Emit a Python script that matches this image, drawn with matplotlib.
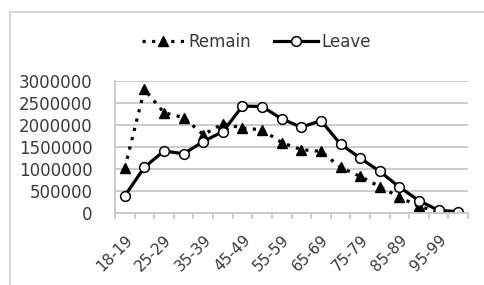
import numpy as np
import matplotlib.pyplot as plt
from matplotlib.patches import Rectangle

# age groups and votes
age_groups = ['18-19', '20-24', '25-29', '30-34', '35-39', '40-44', '45-49',
              '50-54', '55-59', '60-64', '65-69', '70-74', '75-79', '80-84',
              '85-89', '90-94', '95-99', '100+']
remain = [1020000, 2810000, 2280000, 2170000, 1780000, 2030000, 1930000,
          1890000, 1600000, 1440000, 1400000, 1040000, 830000, 600000,
          360000, 150000, 30000, 10000]
leave = [390000, 1040000, 1410000, 1345000, 1625000, 1850000, 2430000,
         2420000, 2140000, 1950000, 2100000, 1565000, 1250000, 945000,
         590000, 280000, 60000, 30000]
yticks = [0, 500000, 1000000, 1500000, 2000000, 2500000, 3000000]

txt = '#3a3a3a'
grid = '#c8c8c8'

fig = plt.figure(figsize=(4.84, 2.85), dpi=100)
fig.patches.append(Rectangle((10 / 484, -0.1), 1.2, 1 - 12 / 285 + 0.1,
                             transform=fig.transFigure, fill=False,
                             edgecolor='#d0d0d0', lw=1.2))
ax = fig.add_axes([115 / 484, 1 - 213 / 285, 353 / 484, 132 / 285])

x = np.arange(len(age_groups))
ax.plot(x, remain, color='black', ls=(0, (1, 2)), lw=2.3, marker='^',
        ms=6.5, mfc='black', mec='black', label='Remain')
ax.plot(x, leave, color='black', ls='-', lw=2.3, marker='o',
        ms=7, mfc='white', mec='black', mew=1.1, label='Leave')

ax.set_xlim(-0.5, len(age_groups) - 0.5)
ax.set_ylim(0, 3000000)
ax.set_yticks(yticks)
ax.set_yticklabels([str(v) for v in yticks])
ax.yaxis.grid(True, color=grid, lw=1.3)
ax.set_axisbelow(True)

ax.set_xticks(x[::2])
ax.set_xticklabels(age_groups[::2], rotation=45, ha='right',
                   rotation_mode='anchor')
ax.set_xticks(np.arange(-0.5, len(age_groups)), minor=True)
ax.tick_params(axis='x', which='major', length=0, pad=14, labelsize=11,
               labelcolor=txt)
ax.tick_params(axis='x', which='minor', length=4, color=grid, width=1.2)
ax.tick_params(axis='y', length=0, pad=16, labelsize=12, labelcolor=txt)

for s in ['top', 'right']:
    ax.spines[s].set_visible(False)
ax.spines['left'].set_color(grid)
ax.spines['bottom'].set_color(grid)
ax.spines['left'].set_linewidth(1.3)
ax.spines['bottom'].set_linewidth(1.3)

fig.legend(loc='center', bbox_to_anchor=(256 / 484, 1 - 42 / 285), ncol=2,
           frameon=False, fontsize=12, labelcolor=txt, handlelength=2.6,
           handletextpad=0.2, columnspacing=1.4, borderpad=0)

fig.savefig('out.png', dpi=100)
